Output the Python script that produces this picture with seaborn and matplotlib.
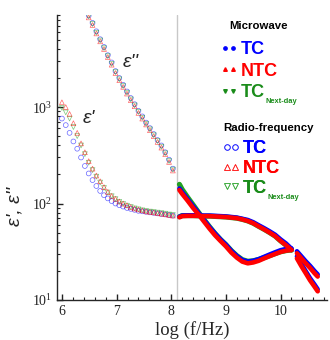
import matplotlib
matplotlib.use("Agg")
import matplotlib.pyplot as plt
import seaborn as sns
from matplotlib.lines import Line2D
from matplotlib.ticker import MultipleLocator, LogLocator, NullFormatter

# ---------------- data ----------------
# Radio-frequency, eps'
rf_x = [6.00, 6.07, 6.14, 6.21, 6.28, 6.35, 6.42, 6.49, 6.56, 6.63,
        6.70, 6.77, 6.84, 6.91, 6.98, 7.05, 7.12, 7.19, 7.26, 7.33,
        7.40, 7.47, 7.54, 7.61, 7.68, 7.75, 7.82, 7.89, 7.96, 8.03]
rf_eps1_ntc = [1120, 1000, 850, 680, 540, 420, 340, 275, 230, 195,
               170, 148, 132, 120, 112, 105, 100, 96, 92, 89,
               87, 85, 83, 82, 81, 79.5, 78.5, 77.5, 76, 75]
rf_eps1_tc = [760, 650, 540, 440, 370, 300, 245, 205, 175, 152,
              135, 122, 113, 106, 100, 96, 93, 90, 88, 86,
              84, 83, 82, 81, 80, 79, 78, 77, 76, 75]
rf_eps1_next = [980, 880, 760, 620, 500, 400, 325, 265, 222, 190,
                165, 145, 130, 119, 111, 104, 99, 95, 92, 89,
                87, 85, 83.5, 82.5, 81.5, 80.5, 79.5, 78.5, 77, 76]

# Radio-frequency, eps''
rf2_x = [6.35, 6.42, 6.49, 6.56, 6.63, 6.70, 6.77, 6.84, 6.91, 6.98, 7.05,
         7.12, 7.19, 7.26, 7.33, 7.40, 7.47, 7.54, 7.61, 7.68, 7.75,
         7.82, 7.89, 7.96, 8.03]
rf_eps2_ntc = [12300, 10200, 8500, 7100, 5800, 4800, 4000, 3300, 2750, 2250, 1900,
               1620, 1380, 1180, 1020, 870, 760, 660, 575, 500, 435,
               380, 325, 270, 220]
rf_eps2_tc = [12900, 10700, 8900, 7450, 6100, 5050, 4200, 3450, 2900, 2360, 2000,
              1700, 1450, 1240, 1070, 915, 800, 690, 605, 525, 455,
              400, 340, 285, 230]
rf_eps2_next = [12600, 10400, 8700, 7250, 5900, 4900, 4080, 3370, 2800, 2300, 1940,
                1650, 1410, 1200, 1040, 890, 775, 672, 587, 510, 444,
                388, 332, 276, 225]

# Microwave, first band
mw_x1 = [8.15, 8.20, 8.30, 8.40, 8.50, 8.60, 8.70, 8.80, 8.90, 9.00, 9.10,
         9.20, 9.30, 9.40, 9.50, 9.60, 9.70, 9.80, 9.90, 10.00, 10.10, 10.20]
mw_eps1_ntc = [72, 74, 74.5, 74.5, 74.5, 74, 74, 73.5, 73, 72.5, 71.5,
               70.5, 68.5, 66, 62.5, 58, 54, 50, 46, 41, 37, 33]
mw_eps1_tc = [73, 75, 75.5, 75.5, 75.5, 75, 75, 74.5, 74, 73.5, 72.5,
              71.5, 69.5, 67.5, 64, 59.5, 55.5, 51.5, 47.5, 42.5, 38.5, 34]
mw_eps1_next = [73, 75, 75, 75, 74.5, 74, 74, 73.5, 73, 72.5, 71.5,
                70.5, 68.5, 66, 62.5, 58, 54, 50, 46, 41, 37, 33]
mw_eps2_ntc = [138, 126, 107, 90, 77, 65, 55, 47, 41, 36, 31,
               27.5, 25, 24, 24.5, 25.5, 27, 28.5, 30, 31.5, 32.5, 33]
mw_eps2_tc = [143, 131, 111, 93.5, 80, 67.5, 57, 49, 42.5, 37.5, 32.3,
              28.6, 26, 25, 25.5, 26.5, 28, 29.6, 31.2, 32.8, 33.8, 34.3]
mw_eps2_next = [158, 140, 116, 97, 81, 68, 57.5, 49, 42.5, 37.5, 32.5,
                28.8, 26.2, 25.2, 25.5, 26.3, 27.5, 28.8, 30.2, 31.6, 32.5, 33]

# Microwave, second band
mw_x2 = [10.30, 10.38, 10.46, 10.54, 10.62, 10.68]
mw_hi_ntc = [30.5, 27, 24, 21.5, 19, 17.5]
mw_hi_tc = [32, 28.4, 25.2, 22.6, 20, 18.4]
mw_lo_ntc = [27, 22.5, 19, 16, 13.8, 12.3]
mw_lo_tc = [28.3, 23.6, 19.9, 16.8, 14.5, 12.9]

BLUE = "#0000ff"
RED = "#ff0000"
GREEN = "#22a022"
GREEN_TXT = "#1a8c1a"

# ---------------- style ----------------
sns.set_style("ticks")
plt.rcParams["font.family"] = ["Liberation Serif", "DejaVu Serif"]
plt.rcParams["mathtext.fontset"] = "custom"
plt.rcParams["mathtext.rm"] = "Liberation Serif"
plt.rcParams["axes.linewidth"] = 1.0

fig = plt.figure(figsize=(3.3, 3.4), dpi=100)
ax = fig.add_axes([57 / 330, 1 - 300 / 340, 270 / 330, 285 / 340])

# vertical separator
ax.axvline(8.1, color="#c8c8c8", lw=1.0, zorder=0)

# RF open markers
def rf_scatter(x, y, marker, color):
    sns.scatterplot(x=x, y=y, marker=marker, s=12, facecolor="none",
                    edgecolor=color, linewidth=0.5, alpha=0.6, ax=ax, zorder=3)

rf_scatter(rf_x, rf_eps1_tc, "o", BLUE)
rf_scatter(rf_x, rf_eps1_next, "v", GREEN)
rf_scatter(rf_x, rf_eps1_ntc, "^", RED)
rf_scatter(rf2_x, rf_eps2_tc, "o", BLUE)
rf_scatter(rf2_x, rf_eps2_next, "v", GREEN)
rf_scatter(rf2_x, rf_eps2_ntc, "^", RED)

# Microwave thick traces
def mw_line(x, y, color, lw=3.3):
    sns.lineplot(x=x, y=y, color=color, lw=lw, estimator=None, sort=False,
                 ax=ax, zorder=4, solid_capstyle="round")

for yv in (mw_eps2_next, mw_eps1_next):
    mw_line(mw_x1, yv, GREEN, lw=3.7)
for yv in (mw_eps1_tc, mw_eps2_tc):
    mw_line(mw_x1, yv, BLUE)
for yv in (mw_eps1_ntc, mw_eps2_ntc):
    mw_line(mw_x1, yv, RED)
mw_line(mw_x2, mw_hi_tc, BLUE)
mw_line(mw_x2, mw_lo_tc, BLUE)
mw_line(mw_x2, mw_hi_ntc, RED)
mw_line(mw_x2, mw_lo_ntc, RED)

# axes
ax.set_yscale("log")
ax.set_xlim(5.91, 10.85)
ax.set_ylim(10, 9000)
ax.xaxis.set_major_locator(MultipleLocator(1))
ax.xaxis.set_minor_locator(MultipleLocator(0.2))
ax.yaxis.set_major_locator(LogLocator(base=10, numticks=10))
ax.yaxis.set_minor_locator(LogLocator(base=10, subs=range(2, 10), numticks=20))
ax.yaxis.set_minor_formatter(NullFormatter())
ax.tick_params(which="both", direction="in", colors="#222222", labelsize=10)
ax.tick_params(which="major", length=4, width=1)
ax.tick_params(which="minor", length=2.5, width=0.8)
sns.despine(ax=ax)
ax.set_xlabel("log (f/Hz)", fontsize=13.5, labelpad=2)
ax.set_ylabel("ε', ε''", fontsize=14, family=["Liberation Sans", "DejaVu Sans"],
              style="italic")
ax.yaxis.set_label_coords(-0.125, 0.33)

ax.text(7.25, 2900, "ε''", fontsize=14, style="italic",
        family=["Liberation Sans", "DejaVu Sans"], ha="center", va="center")
ax.text(6.50, 760, "ε'", fontsize=14, style="italic",
        family=["Liberation Sans", "DejaVu Sans"], ha="center", va="center")

# legends
entry_font = dict(family="Liberation Sans", weight="bold", size=13)
title_kw = dict(family="Liberation Sans", weight="bold", fontsize=8.2,
                ha="center", va="center", color="black")

h_mw = [Line2D([], [], marker="o", ls="", color=BLUE, markersize=2.4),
        Line2D([], [], marker="^", ls="", color=RED, markersize=2.6),
        Line2D([], [], marker="v", ls="", color=GREEN_TXT, markersize=2.6)]
h_rf = [Line2D([], [], marker="o", ls="", mfc="none", mec=BLUE, mew=0.6, markersize=4, alpha=0.7),
        Line2D([], [], marker="^", ls="", mfc="none", mec=RED, mew=0.6, markersize=4, alpha=0.7),
        Line2D([], [], marker="v", ls="", mfc="none", mec=GREEN, mew=0.6, markersize=4, alpha=0.7)]
txt_cols = [BLUE, RED, GREEN_TXT]

fig.text(258 / 330, 1 - 26 / 340, "Microwave", **title_kw)
fig.text(269 / 330, 1 - 128 / 340, "Radio-frequency", **title_kw)

legs = []
for handles, anchor, spacing in ((h_mw, (220 / 330, 1 - 41 / 340), 0.26),
                                 (h_rf, (222 / 330, 1 - 140 / 340), 0.16)):
    leg = ax.legend(handles=handles, labels=["TC", "NTC", "TC"],
                    loc="upper left", bbox_to_anchor=anchor,
                    bbox_transform=fig.transFigure, frameon=False, numpoints=2,
                    handlelength=1.0, handletextpad=0.15, labelspacing=spacing,
                    borderpad=0, borderaxespad=0, prop=entry_font)
    for t, c in zip(leg.get_texts(), txt_cols):
        t.set_color(c)
    ax.add_artist(leg)
    legs.append(leg)

fig.canvas.draw()
for leg in legs:
    bb = leg.get_texts()[2].get_window_extent()
    fig.text((bb.x1 + 1) / fig.bbox.width, (bb.y0 - 4) / fig.bbox.height,
             "Next-day", color=GREEN_TXT, fontsize=5.4,
             family="Liberation Sans", weight="bold", ha="left", va="bottom")

fig.savefig("out.png", dpi=100)
